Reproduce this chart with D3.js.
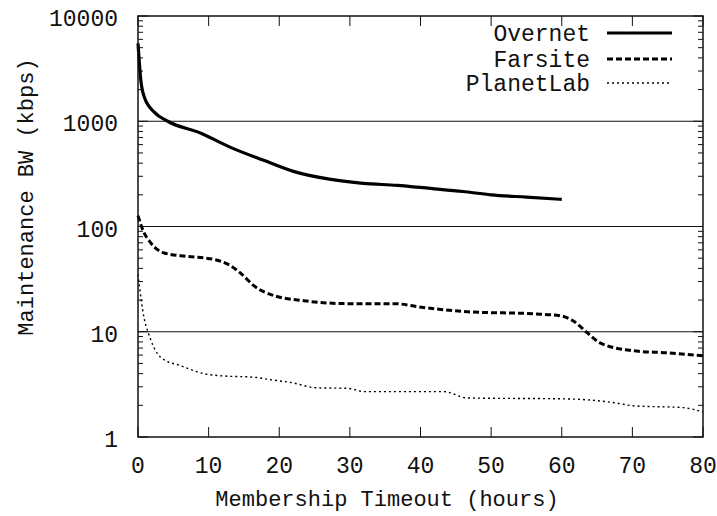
<!DOCTYPE html>
<html>
<head>
<meta charset="utf-8">
<script src="https://cdn.jsdelivr.net/npm/d3@7.9.0/dist/d3.min.js"></script>
<style>
  body { margin: 0; background: #fff; }
  text { font-family: "Liberation Mono", "DejaVu Sans Mono", monospace; fill: #111; }
</style>
</head>
<body>
<svg id="chart" width="717" height="516"></svg>
<script>
// hours, kbps
const overnetX = [0, 0.4, 0.9, 2.3, 4.2, 8.9, 13.1, 17.8, 22, 27.3, 31.9, 36.7, 41.4, 46, 50, 55, 60];
const overnetY = [5500, 2450, 1690, 1220, 1000, 770, 565, 425, 334, 280, 257, 246, 230, 215, 200, 190, 181];

const farsiteX = [0, 0.7, 1.8, 3.7, 7, 10.8, 13.1, 14.6, 16.4, 19.3, 23.5, 29.7, 36.2, 40.4, 46.6, 56, 59.8, 61.6, 63.6, 65.4, 70.1, 74.9, 80];
const farsiteY = [127, 92, 70, 56, 52, 48.6, 42.5, 35.7, 27.4, 22, 19.7, 18.5, 18.5, 17, 15.5, 14.8, 14.2, 12.7, 9.8, 7.85, 6.6, 6.3, 5.9];

const planetX = [0, 0.85, 1.5, 2.3, 3.3, 6.1, 9.3, 12.2, 16.4, 18.8, 21.6, 25.4, 29.7, 32, 36.7, 43.3, 46.6, 60.8, 67.8, 70.1, 77.2, 80];
const planetY = [35, 13.6, 9.6, 7, 5.65, 4.74, 4, 3.8, 3.7, 3.5, 3.3, 2.93, 2.9, 2.7, 2.7, 2.7, 2.35, 2.3, 2.1, 1.98, 1.9, 1.73];

const xTicks = [0, 10, 20, 30, 40, 50, 60, 70, 80];
const yTicks = [1, 10, 100, 1000, 10000];
const gridValues = [10, 100, 1000];

const series = [
  { name: "Overnet", xs: overnetX, ys: overnetY, width: 3.2, dash: null },
  { name: "Farsite", xs: farsiteX, ys: farsiteY, width: 3, dash: "6,3" },
  { name: "PlanetLab", xs: planetX, ys: planetY, width: 1.4, dash: "2,3" }
];

const margin = { left: 138, right: 14, top: 16, bottom: 79 };
const width = 717, height = 516;
const svg = d3.select("#chart");

const x = d3.scaleLinear().domain([0, 80]).range([margin.left, width - margin.right]);
const y = d3.scaleLog().domain([1, 10000]).range([height - margin.bottom, margin.top]);

// grid lines
svg.append("g").selectAll("line").data(gridValues).join("line")
  .attr("x1", x(0)).attr("x2", x(80))
  .attr("y1", d => y(d)).attr("y2", d => y(d))
  .attr("stroke", "#111").attr("stroke-width", 1);

// minor log ticks
const minor = [];
for (let e = 0; e < 4; e++) for (let m = 2; m < 10; m++) minor.push(m * Math.pow(10, e));

const ticksG = svg.append("g").attr("stroke", "#111").attr("stroke-width", 1);
ticksG.selectAll(".minL").data(minor).join("line")
  .attr("x1", x(0)).attr("x2", x(0) + 5)
  .attr("y1", d => y(d)).attr("y2", d => y(d));
ticksG.selectAll(".minR").data(minor).join("line")
  .attr("x1", x(80)).attr("x2", x(80) - 5)
  .attr("y1", d => y(d)).attr("y2", d => y(d));
ticksG.selectAll(".majL").data(yTicks).join("line")
  .attr("x1", x(0)).attr("x2", x(0) + 10)
  .attr("y1", d => y(d)).attr("y2", d => y(d));
ticksG.selectAll(".majR").data(yTicks).join("line")
  .attr("x1", x(80)).attr("x2", x(80) - 10)
  .attr("y1", d => y(d)).attr("y2", d => y(d));
ticksG.selectAll(".xB").data(xTicks).join("line")
  .attr("x1", d => x(d)).attr("x2", d => x(d))
  .attr("y1", y(1)).attr("y2", y(1) - 10);
ticksG.selectAll(".xT").data(xTicks).join("line")
  .attr("x1", d => x(d)).attr("x2", d => x(d))
  .attr("y1", y(10000)).attr("y2", y(10000) + 10);

// tick labels
svg.append("g").selectAll("text").data(yTicks).join("text")
  .attr("x", x(0) - 20).attr("y", d => y(d) + 2)
  .attr("dy", "0.35em").attr("text-anchor", "end")
  .attr("font-size", 23).text(d => d);

svg.append("g").selectAll("text").data(xTicks).join("text")
  .attr("x", d => x(d)).attr("y", 465)
  .attr("dy", "0.35em").attr("text-anchor", "middle")
  .attr("font-size", 23).text(d => d);

// axis titles
svg.append("text")
  .attr("x", 387).attr("y", 498).attr("dy", "0.35em")
  .attr("text-anchor", "middle").attr("font-size", 22)
  .text("Membership Timeout (hours)");

svg.append("text")
  .attr("transform", "translate(25,197) rotate(-90)")
  .attr("dy", "0.35em").attr("text-anchor", "middle").attr("font-size", 22)
  .text("Maintenance BW (kbps)");

// lines
const line = d3.line().x(d => x(d[0])).y(d => y(d[1])).curve(d3.curveMonotoneX);
series.forEach(s => {
  svg.append("path")
    .datum(d3.zip(s.xs, s.ys))
    .attr("d", line)
    .attr("fill", "none")
    .attr("stroke", "#000")
    .attr("stroke-width", s.width)
    .attr("stroke-dasharray", s.dash);
});

// frame
svg.append("rect")
  .attr("x", x(0)).attr("y", y(10000))
  .attr("width", x(80) - x(0)).attr("height", y(1) - y(10000))
  .attr("fill", "none").attr("stroke", "#111").attr("stroke-width", 1.5);

// legend
const legendY = [33, 59, 83];
const lg = svg.append("g");
series.forEach((s, i) => {
  lg.append("text")
    .attr("x", 590).attr("y", legendY[i]).attr("dy", "0.35em")
    .attr("text-anchor", "end").attr("font-size", 23).text(s.name);
  lg.append("line")
    .attr("x1", 607).attr("x2", 672)
    .attr("y1", legendY[i]).attr("y2", legendY[i])
    .attr("stroke", "#000").attr("stroke-width", s.width)
    .attr("stroke-dasharray", s.dash);
});
</script>
</body>
</html>
